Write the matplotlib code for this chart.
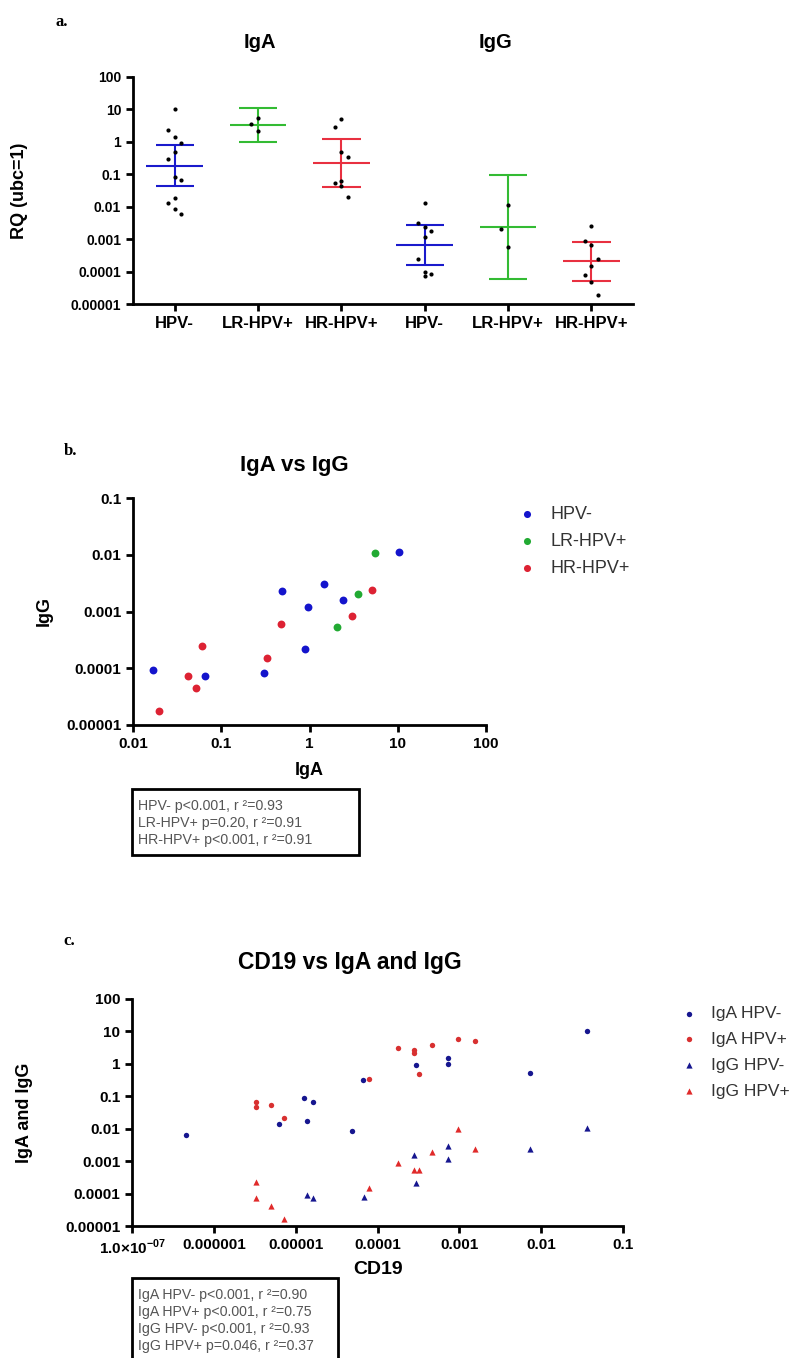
import matplotlib
matplotlib.use("Agg")
import matplotlib.pyplot as plt
from matplotlib.patches import Rectangle
from matplotlib.ticker import FixedLocator, NullLocator

plt.rcParams['font.family'] = ['Liberation Sans', 'DejaVu Sans']
plt.rcParams['mathtext.fontset'] = 'custom'
plt.rcParams['mathtext.rm'] = 'Liberation Sans:bold'
plt.rcParams['mathtext.bf'] = 'Liberation Sans:bold'

# ---- panel a: RQ per group ----
groups_a = ["HPV-", "LR-HPV+", "HR-HPV+", "HPV-", "LR-HPV+", "HR-HPV+"]
iga_hpv_neg = [10, 2.4, 1.45, 0.95, 0.49, 0.30, 0.083, 0.069, 0.018, 0.013, 0.0083, 0.0059]
iga_lr = [5.3, 3.5, 2.1]
iga_hr = [4.9, 2.9, 0.48, 0.33, 0.064, 0.052, 0.043, 0.020]
igg_hpv_neg = [0.0126, 0.0032, 0.0024, 0.0018, 0.0012, 0.00025, 0.000098, 0.000087, 0.000074]
igg_lr = [0.011, 0.0021, 0.00058]
igg_hr = [0.0025, 0.00089, 0.00065, 0.00025, 0.00015, 0.000077, 0.000048, 0.0000186]
means_a = [0.18, 3.3, 0.22, 0.00065, 0.0023, 0.00021]
upper_a = [0.78, 11.2, 1.2, 0.0028, 0.095, 0.00080]
lower_a = [0.043, 0.98, 0.040, 0.00016, 0.000059, 0.00005]

# ---- panel b: IgA vs IgG ----
b_neg_iga = [0.0169, 0.066, 0.307, 0.487, 0.898, 0.962, 1.46, 2.40, 10.2]
b_neg_igg = [0.0000933, 0.0000733, 0.0000817, 0.00232, 0.000219, 0.00122, 0.00308, 0.00161, 0.0113]
b_lr_iga = [2.03, 3.55, 5.59]
b_lr_igg = [0.000543, 0.0020, 0.0106]
b_hr_iga = [0.0199, 0.0425, 0.0514, 0.0606, 0.327, 0.474, 3.04, 5.16]
b_hr_igg = [0.0000174, 0.0000723, 0.0000444, 0.000244, 0.000152, 0.000597, 0.000849, 0.00238]
b_stats = ["HPV- p<0.001, r \u00b2=0.93", "LR-HPV+ p=0.20, r \u00b2=0.91", "HR-HPV+ p<0.001, r \u00b2=0.91"]

# ---- panel c: CD19 vs IgA / IgG ----
c_iga_neg_x = [4.6e-7, 6.25e-6, 1.26e-5, 1.36e-5, 1.63e-5, 4.94e-5, 6.67e-5, 2.94e-4, 7.19e-4, 7.3e-4, 0.0074, 0.0366]
c_iga_neg_y = [0.0063, 0.0136, 0.0877, 0.0172, 0.069, 0.0085, 0.32, 0.925, 0.99, 1.52, 0.51, 10.5]
c_iga_pos_x = [3.24e-6, 3.24e-6, 4.94e-6, 7.2e-6, 7.9e-5, 1.79e-4, 2.81e-4, 2.81e-4, 3.24e-4, 4.6e-4, 9.7e-4, 1.55e-3]
c_iga_pos_y = [0.066, 0.047, 0.055, 0.021, 0.34, 3.1, 2.6, 2.1, 0.49, 3.8, 5.8, 5.2]
c_igg_neg_x = [1.36e-5, 1.63e-5, 6.9e-5, 2.81e-4, 2.94e-4, 7.3e-4, 7.2e-4, 0.0074, 0.0366]
c_igg_neg_y = [8.9e-5, 7.1e-5, 7.6e-5, 0.0016, 0.00021, 0.0030, 0.0012, 0.0023, 0.0107]
c_igg_pos_x = [3.24e-6, 3.24e-6, 4.94e-6, 7.2e-6, 7.9e-5, 1.79e-4, 2.81e-4, 3.24e-4, 4.6e-4, 9.7e-4, 1.55e-3]
c_igg_pos_y = [0.00023, 7.1e-5, 4.2e-5, 1.66e-5, 0.000145, 0.00085, 0.00055, 0.00055, 0.0019, 0.0100, 0.0023]
c_stats = ["IgA HPV- p<0.001, r \u00b2=0.90", "IgA HPV+ p<0.001, r \u00b2=0.75",
           "IgG HPV- p<0.001, r \u00b2=0.93", "IgG HPV+ p=0.046, r \u00b2=0.37"]

W, H = 799, 1358
fig = plt.figure(figsize=(W / 100, H / 100), dpi=100)


def px_axes(l, t, r, b):
    return fig.add_axes([l / W, 1 - b / H, (r - l) / W, (b - t) / H])


def fx(x):
    return x / W


def fy(y):
    return 1 - y / H


def style(ax, size):
    for s in ("top", "right"):
        ax.spines[s].set_visible(False)
    for s in ("left", "bottom"):
        ax.spines[s].set_linewidth(2)
    ax.tick_params(width=2, length=5, direction="out", labelsize=size)
    for lab in ax.get_xticklabels() + ax.get_yticklabels():
        lab.set_fontweight("bold")


def log_labels(ax, axis, vals, labels):
    if axis == "y":
        ax.yaxis.set_major_locator(FixedLocator(vals))
        ax.yaxis.set_minor_locator(NullLocator())
        ax.set_yticklabels(labels)
    else:
        ax.xaxis.set_major_locator(FixedLocator(vals))
        ax.xaxis.set_minor_locator(NullLocator())
        ax.set_xticklabels(labels)


def stats_box(l, t, r, b, lines, y0, dy):
    fig.patches.append(Rectangle((fx(l), fy(b)), fx(r - l), (b - t) / H, transform=fig.transFigure,
                                 fill=False, edgecolor="black", linewidth=2))
    for i, s in enumerate(lines):
        fig.text(fx(l + 6), fy(y0 + i * dy), s, fontsize=10.2, color="#555555", va="center")


def legend_at(ax, handles, x, y, ms, size, spacing):
    ax.legend(handles=handles, loc="upper left", bbox_to_anchor=(fx(x), fy(y)),
              bbox_transform=fig.transFigure, frameon=False, fontsize=size, handlelength=1.0,
              handletextpad=0.8, labelspacing=spacing, borderpad=0.4, borderaxespad=0,
              markerscale=ms, labelcolor="#333333")


# ================= panel a =================
blue, green, red = "#1a1acc", "#33bb33", "#e83040"
cols_a = [blue, green, red, blue, green, red]
pts_a = [iga_hpv_neg, iga_lr, iga_hr, igg_hpv_neg, igg_lr, igg_hr]

axa = px_axes(133, 77, 633, 304)
axa.set_yscale("log")
jit = [0, -1, 0, 1]
for i, vals in enumerate(pts_a):
    xs = [i + 0.08 * jit[k % 4] for k in range(len(vals))]
    axa.scatter(xs, vals, s=9, color="black", zorder=3, linewidths=0)
    axa.hlines(means_a[i], i - 0.34, i + 0.34, color=cols_a[i], linewidth=1.5, zorder=2)
    axa.vlines(i, lower_a[i], upper_a[i], color=cols_a[i], linewidth=1.5, zorder=2)
    axa.hlines([lower_a[i], upper_a[i]], i - 0.23, i + 0.23, color=cols_a[i], linewidth=1.5, zorder=2)
axa.set_xlim(-0.5, 5.5)
axa.set_ylim(1e-5, 100)
axa.set_xticks(range(6))
axa.set_xticklabels(groups_a)
log_labels(axa, "y", [1e-5, 1e-4, 1e-3, 1e-2, 0.1, 1, 10, 100],
           ["0.00001", "0.0001", "0.001", "0.01", "0.1", "1", "10", "100"])
style(axa, 10)
axa.tick_params(axis="x", labelsize=12)
axa.set_ylabel("RQ (ubc=1)", fontsize=13, fontweight="bold")
axa.yaxis.set_label_coords((28 - 133) / 500, 0.5)
fig.text(fx(260), fy(43), "IgA", fontsize=14.5, fontweight="bold", ha="center", va="center")
fig.text(fx(495), fy(43), "IgG", fontsize=14.5, fontweight="bold", ha="center", va="center")
fig.text(fx(56), fy(22), "a.", fontsize=12, fontweight="bold", family="Liberation Serif", va="center")

# ================= panel b =================
axb = px_axes(133, 498, 486, 725)
axb.set_xscale("log")
axb.set_yscale("log")
hb1 = axb.scatter(b_neg_iga, b_neg_igg, s=32, color="#1414cc", linewidths=0, label="HPV-")
hb2 = axb.scatter(b_lr_iga, b_lr_igg, s=32, color="#22aa33", linewidths=0, label="LR-HPV+")
hb3 = axb.scatter(b_hr_iga, b_hr_igg, s=32, color="#dd2233", linewidths=0, label="HR-HPV+")
axb.set_xlim(0.01, 100)
axb.set_ylim(1e-5, 0.1)
log_labels(axb, "x", [0.01, 0.1, 1, 10, 100], ["0.01", "0.1", "1", "10", "100"])
log_labels(axb, "y", [1e-5, 1e-4, 1e-3, 1e-2, 0.1], ["0.00001", "0.0001", "0.001", "0.01", "0.1"])
style(axb, 11)
axb.set_xlabel("IgA", fontsize=13, fontweight="bold")
axb.xaxis.set_label_coords(0.5, (725 - 762) / 227)
axb.set_ylabel("IgG", fontsize=13, fontweight="bold")
axb.yaxis.set_label_coords((53 - 133) / 353, 0.5)
fig.text(fx(294), fy(465), "IgA vs IgG", fontsize=16, fontweight="bold", ha="center", va="center")
fig.text(fx(64), fy(451), "b.", fontsize=12, fontweight="bold", family="Liberation Serif", va="center")
legend_at(axb, [hb1, hb2, hb3], 511, 499, 0.9, 13, 0.55)
stats_box(132, 789, 359, 855, b_stats, 806, 17)

# ================= panel c =================
axc = px_axes(132, 999, 623, 1226)
axc.set_xscale("log")
axc.set_yscale("log")
hc1 = axc.scatter(c_iga_neg_x, c_iga_neg_y, s=15, marker="o", color="#16168f", linewidths=0, label="IgA HPV-")
hc2 = axc.scatter(c_iga_pos_x, c_iga_pos_y, s=15, marker="o", color="#d83030", linewidths=0, label="IgA HPV+")
hc3 = axc.scatter(c_igg_neg_x, c_igg_neg_y, s=20, marker="^", color="#16168f", linewidths=0, label="IgG HPV-")
hc4 = axc.scatter(c_igg_pos_x, c_igg_pos_y, s=20, marker="^", color="#e02a2a", linewidths=0, label="IgG HPV+")
axc.set_xlim(1e-7, 0.1)
axc.set_ylim(1e-5, 100)
log_labels(axc, "x", [1e-7, 1e-6, 1e-5, 1e-4, 1e-3, 1e-2, 0.1],
           [r"1.0$\times$10$^{-07}$", "0.000001", "0.00001", "0.0001", "0.001", "0.01", "0.1"])
log_labels(axc, "y", [1e-5, 1e-4, 1e-3, 1e-2, 0.1, 1, 10, 100],
           ["0.00001", "0.0001", "0.001", "0.01", "0.1", "1", "10", "100"])
style(axc, 11)
axc.set_xlabel("CD19", fontsize=14, fontweight="bold")
axc.xaxis.set_label_coords(0.501, (1226 - 1261) / 227)
axc.set_ylabel("IgA and IgG", fontsize=13, fontweight="bold")
axc.yaxis.set_label_coords((33 - 132) / 491, 0.5)
fig.text(fx(350), fy(963), "CD19 vs IgA and IgG", fontsize=16.5, fontweight="bold", ha="center", va="center")
fig.text(fx(63), fy(941), "c.", fontsize=12, fontweight="bold", family="Liberation Serif", va="center")
legend_at(axc, [hc1, hc2, hc3, hc4], 673, 999, 1.0, 12.5, 0.62)
stats_box(132, 1278, 338, 1372, c_stats, 1295, 17)

fig.savefig("out.png", dpi=100)
